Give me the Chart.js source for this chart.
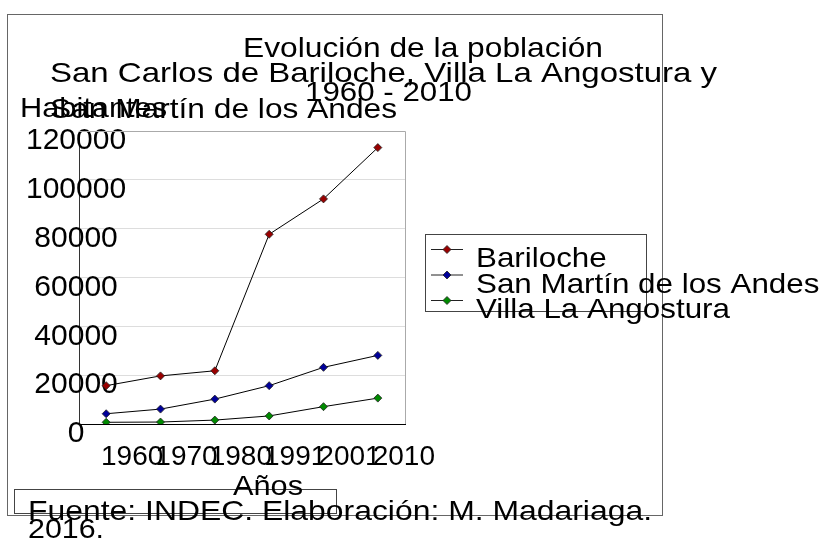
<!DOCTYPE html>
<html>
<head>
<meta charset="utf-8">
<script src="https://cdn.jsdelivr.net/npm/chart.js@4.4.1/dist/chart.umd.min.js"></script>
<style>
  html, body { margin: 0; padding: 0; background: #fff; }
  canvas { display: block; }
</style>
</head>
<body>
<canvas id="popChart" width="828" height="541"></canvas>
<script>
// Datos (habitantes por censo)
const years = ['1960', '1970', '1980', '1991', '2001', '2010'];
const bariloche = [15700, 19700, 21800, 77700, 92200, 113200];
const sanMartin = [4200, 6100, 10200, 15700, 23200, 28100];
const villaAngostura = [700, 800, 1600, 3300, 7100, 10600];
const seriesNames = ['Bariloche', 'San Martín de los Andes', 'Villa La Angostura'];
const seriesColors = ['#990000', '#000099', '#008a00'];
const yMax = 120000;
const yStep = 20000;

const FONT = '"Liberation Sans", Arial, sans-serif';

// textos sueltos del gráfico original (texto, x, línea base, ancho)
const texts = [
    ['Evolución de la población', 243, 57, 360],
    ['San Carlos de Bariloche, Villa La Angostura y', 50, 82, 667],
    ['1960 - 2010', 305, 101, 167],
    ['Habitantes', 20, 117, 147],
    ['San Martín de los Andes', 50, 118, 347],
    ['Años', 233, 495, 70],
    ['Fuente: INDEC. Elaboración: M. Madariaga.', 28, 520, 624],
    ['2016.', 28, 538, 76]
];

function wideText(c, s, x, y, sx) {
    c.save();
    c.translate(x, y);
    c.scale(sx, 1);
    c.fillText(s, 0, 0);
    c.restore();
}

function diamond(c, x, y, r, color) {
    c.beginPath();
    c.moveTo(x, y - r);
    c.lineTo(x + r, y);
    c.lineTo(x, y + r);
    c.lineTo(x - r, y);
    c.closePath();
    c.fillStyle = color;
    c.fill();
    c.strokeStyle = '#222';
    c.lineWidth = 0.8;
    c.stroke();
}

// marco, borde del área, títulos y leyenda
const frame = {
    id: 'frame',
    beforeDraw(chart) {
        const c = chart.ctx;
        c.save();
        c.fillStyle = '#fff';
        c.fillRect(0, 0, chart.width, chart.height);
        c.restore();
    },
    beforeDatasetsDraw(chart) {
        const c = chart.ctx;
        const a = chart.chartArea;
        c.save();
        c.strokeStyle = '#aaa';
        c.lineWidth = 1;
        c.beginPath();
        c.moveTo(a.left, Math.round(a.top) + 0.5);
        c.lineTo(Math.round(a.right) + 0.5, Math.round(a.top) + 0.5);
        c.lineTo(Math.round(a.right) + 0.5, a.bottom);
        c.stroke();
        c.restore();
    },
    afterDraw(chart) {
        const c = chart.ctx;
        c.save();
        c.strokeStyle = '#666';
        c.lineWidth = 1;
        c.strokeRect(7.5, 14.5, 655, 501);
        c.strokeStyle = '#444';
        c.strokeRect(14.5, 489.5, 322, 24);

        c.fillStyle = '#000';
        c.font = '28px ' + FONT;
        c.textBaseline = 'alphabetic';
        texts.forEach(t => {
            const w = c.measureText(t[0]).width;
            wideText(c, t[0], t[1], t[2], t[3] / w);
        });

        // leyenda
        c.strokeStyle = '#444';
        c.strokeRect(425.5, 234.5, 221, 77);
        chart.data.datasets.forEach((ds, i) => {
            const y = 249.5 + i * 25.5;
            c.strokeStyle = '#222';
            c.lineWidth = 1;
            c.beginPath();
            c.moveTo(431, y);
            c.lineTo(463, y);
            c.stroke();
            diamond(c, 447, y, 4, ds.pointBackgroundColor);
            c.fillStyle = '#000';
            wideText(c, ds.label, 476, y + 17.5, 1.12);
        });
        c.restore();
    }
};

const seriesData = [bariloche, sanMartin, villaAngostura];

const ctx = document.getElementById('popChart').getContext('2d');
const popChart = new Chart(ctx, {
    type: 'line',
    data: {
        labels: years,
        datasets: seriesData.map((values, i) => ({
            label: seriesNames[i],
            data: values,
            borderColor: '#000',
            borderWidth: 1,
            tension: 0,
            fill: false,
            pointStyle: 'rectRot',
            pointRadius: 4,
            pointBackgroundColor: seriesColors[i],
            pointBorderColor: '#222',
            pointBorderWidth: 0.8
        }))
    },
    options: {
        responsive: false,
        animation: false,
        layout: {
            padding: { left: 9, top: 131, right: 423, bottom: 57 }
        },
        plugins: {
            legend: { display: false },
            title: { display: false },
            tooltip: { enabled: false }
        },
        scales: {
            x: {
                offset: true,
                grid: { display: false, drawTicks: false },
                border: { color: '#000' },
                ticks: {
                    color: '#000',
                    font: { family: FONT, size: 28 },
                    padding: 16,
                    labelOffset: 26,
                    autoSkip: false,
                    maxRotation: 0,
                    minRotation: 0
                },
                afterFit: function(scale) {
                    scale.height = 60;
                    scale.paddingLeft = 0;
                    scale.paddingRight = 0;
                }
            },
            y: {
                min: 0,
                max: yMax,
                grid: { color: '#ddd', drawTicks: false },
                border: { color: '#333' },
                ticks: {
                    stepSize: yStep,
                    color: '#000',
                    font: { family: FONT, size: 30 },
                    mirror: true,
                    crossAlign: 'center',
                    padding: -53,
                    labelOffset: 10,
                    callback: function(value) {
                        return String(value);
                    }
                },
                afterFit: function(scale) {
                    scale.width = 70;
                    scale.paddingTop = 0;
                    scale.paddingBottom = 0;
                }
            }
        }
    },
    plugins: [frame]
});
</script>
</body>
</html>
